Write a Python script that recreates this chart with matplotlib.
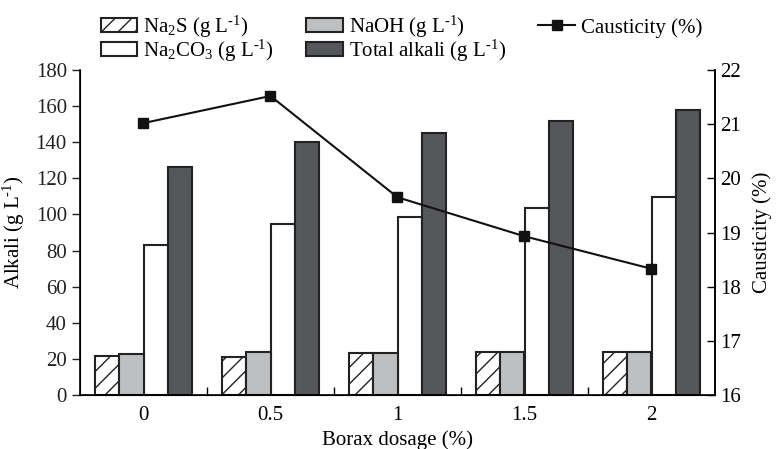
import numpy as np
import matplotlib.pyplot as plt
from matplotlib.ticker import FixedLocator

plt.rcParams['font.family'] = 'Liberation Serif'
plt.rcParams['mathtext.fontset'] = 'custom'
plt.rcParams['mathtext.rm'] = 'Liberation Serif'
plt.rcParams['mathtext.it'] = 'Liberation Serif:italic'
plt.rcParams['hatch.linewidth'] = 1.0

# data
dosage = ['0', '0.5', '1', '1.5', '2']
na2s = [21.5, 20.9, 23.1, 24.0, 24.0]
naoh = [22.7, 24.0, 23.0, 24.0, 24.0]
na2co3 = [83.0, 94.5, 98.5, 103.5, 109.5]
total = [126.5, 140.0, 145.0, 152.0, 158.0]
causticity = [21.02, 21.52, 19.65, 18.93, 18.33]

unit = r'(g L$^{\text{-1}}$)'

fig = plt.figure(figsize=(7.78, 4.49), dpi=100)
ax = fig.add_axes([80/778, 1-395/449, 635/778, 325/449])

x = np.arange(len(dosage))
w = 0.19
ax.bar(x - 1.5*w, na2s, w, facecolor='white', edgecolor='#222222', linewidth=1.5,
       hatch='//', label=r'Na$_2$S ' + unit)
ax.bar(x + 0.5*w, na2co3, w, facecolor='white', edgecolor='#222222', linewidth=1.5,
       label=r'Na$_2$CO$_3$ ' + unit)
ax.bar(x - 0.5*w, naoh, w, facecolor='#bebfc1', edgecolor='#222222', linewidth=1.5,
       label='NaOH ' + unit)
ax.bar(x + 1.5*w, total, w, facecolor='#55575a', edgecolor='#222222', linewidth=1.5,
       label='Total alkali ' + unit)

ax.set_xlim(-0.5, len(dosage) - 0.5)
ax.set_ylim(0, 180)
ax.set_yticks(np.arange(0, 181, 20))
ax.set_xticks(x)
ax.set_xticklabels(dosage)
ax.xaxis.set_minor_locator(FixedLocator(x[:-1] + 0.5))
ax.tick_params(axis='x', which='major', length=0, pad=8, labelsize=15)
ax.tick_params(axis='x', which='minor', direction='in', length=6, width=1)
ax.tick_params(axis='y', direction='out', length=6, width=1, labelsize=15, colors='#222222')
ax.spines['top'].set_visible(False)
for s in ['left', 'bottom', 'right']:
    ax.spines[s].set_linewidth(1.2)
ax.set_ylabel('Alkali ' + unit, fontsize=15, labelpad=6)
ax.set_xlabel('Borax dosage (%)', fontsize=15, labelpad=4)

ax2 = ax.twinx()
ax2.plot(x, causticity, color='#111111', linewidth=1.5, marker='s', markersize=7,
         label='Causticity (%)')
ax2.set_ylim(16, 22)
ax2.set_yticks(np.arange(16, 23, 1))
ax2.tick_params(axis='y', direction='in', length=6, width=1, labelsize=15)
ax2.spines['top'].set_visible(False)
ax2.spines['right'].set_linewidth(1.2)
ax2.set_ylabel('Causticity (%)', fontsize=15, labelpad=8)

h1, l1 = ax.get_legend_handles_labels()
h2, l2 = ax2.get_legend_handles_labels()
fig.legend(h1 + h2, l1 + l2, ncol=3, loc='upper left', bbox_to_anchor=(86/778, 1 + 1/449),
           frameon=False, fontsize=15, handlelength=1.75, handleheight=0.65,
           handletextpad=0.3, columnspacing=1.55, labelspacing=-0.1, borderpad=0.2)

fig.savefig('out.png', dpi=100)
